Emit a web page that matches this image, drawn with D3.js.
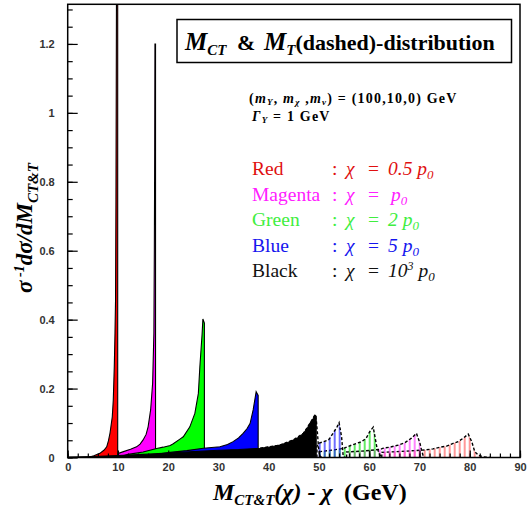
<!DOCTYPE html>
<html>
<head>
<meta charset="utf-8">
<script src="https://cdn.jsdelivr.net/npm/d3@7"></script>
<style>
  body { margin: 0; background: #fff; }
  svg { display: block; }
</style>
</head>
<body>
<svg id="chart"></svg>
<script>
// chart size
const W = 527, H = 512;
const plotL = 67.7, plotR = 520, plotT = 4.3, plotB = 457.5;

// axis data
const xTicks = [0, 10, 20, 30, 40, 50, 60, 70, 80, 90];
const xTickLabels = ["0", "10", "20", "30", "40", "50", "60", "70", "80", "90"];
const yTicks = [0, 0.2, 0.4, 0.6, 0.8, 1, 1.2];
const yTickLabels = ["0", "0.2", "0.4", "0.6", "0.8", "1", "1.2"];

// M_CT distributions (solid, filled) -- [x, y]
const redCT = [[4.0, 0], [5.2, 0.005], [6.4, 0.012], [7.2, 0.021], [7.76, 0.031], [8.1, 0.048], [8.42, 0.071],
  [8.87, 0.118], [9.07, 0.167], [9.27, 0.264], [9.41, 0.361], [9.52, 0.457], [9.6, 0.75], [9.66, 1.07],
  [9.72, 1.45], [9.95, 1.45], [9.95, 0]];
const magentaCT = [[9.95, 0], [10.05, 0.012], [11.1, 0.017], [12.5, 0.024], [13.7, 0.031], [14.4, 0.039], [15.0, 0.051],
  [15.6, 0.067], [16.0, 0.089], [16.5, 0.138], [16.9, 0.216], [17.15, 0.361], [17.24, 0.6], [17.31, 0.89],
  [17.36, 1.2], [17.48, 1.2], [17.48, 0]];
const greenCT = [[10.0, 0], [12.0, 0.009], [15.0, 0.016], [17.7, 0.026], [19.0, 0.030], [20.4, 0.035], [21.0, 0.040],
  [22.4, 0.054], [23.0, 0.060], [24.3, 0.089], [25.3, 0.128], [26.0, 0.186], [26.3, 0.264], [26.75, 0.36],
  [26.9, 0.402], [27.2, 0.39], [27.2, 0]];
const blueCT = [[15.0, 0], [18.0, 0.010], [20.4, 0.015], [23.7, 0.020], [27.0, 0.027], [30.3, 0.031], [31.8, 0.038],
  [32.9, 0.046], [34.0, 0.057], [34.9, 0.070], [35.7, 0.084], [36.3, 0.099], [36.9, 0.138], [37.5, 0.191],
  [37.9, 0.18], [37.9, 0]];
const blackCT = [[0, 0], [0, 0.001], [5, 0.003], [10, 0.006], [15, 0.009], [20, 0.013], [25, 0.017], [30, 0.021],
  [34, 0.023], [38.3, 0.027], [40.5, 0.031], [42.2, 0.036], [43.7, 0.043], [44.9, 0.051], [46.0, 0.059],
  [46.9, 0.070], [47.6, 0.083], [48.2, 0.099], [48.9, 0.114], [49.2, 0.123], [49.45, 0.12], [49.45, 0]];

// M_T distributions (dashed, hatched)
const blackMT = [[38.3, 0.027], [42.2, 0.036], [44.9, 0.051], [46.9, 0.070], [48.2, 0.099], [49.2, 0.124],
  [49.5, 0.104], [49.7, 0.070], [49.9, 0.031], [50.1, 0.007], [50.5, 0]];
const blueMT = [[49.6, 0], [49.6, 0.032], [49.9, 0.041], [50.9, 0.046], [51.9, 0.051], [52.8, 0.070], [53.6, 0.089],
  [54.0, 0.101], [54.5, 0.060], [54.8, 0.007], [55.2, 0]];
const greenMT = [[50.2, 0], [50.2, 0.017], [53.0, 0.022], [55.0, 0.027], [56.5, 0.036], [57.5, 0.041], [58.5, 0.046],
  [59.4, 0.056], [60.1, 0.075], [60.8, 0.088], [61.5, 0.031], [62.1, 0.007], [62.6, 0]];
const magentaMT = [[55.5, 0], [55.5, 0.016], [59.0, 0.019], [62.3, 0.024], [62.8, 0.027], [64.1, 0.030], [65.8, 0.036],
  [67.1, 0.043], [68.4, 0.056], [69.4, 0.070], [70.1, 0.041], [70.4, 0.022], [70.7, 0.007], [71.0, 0]];
const redMT = [[62.5, 0], [62.5, 0.015], [67.0, 0.018], [71.1, 0.022], [72.7, 0.025], [74.1, 0.030], [75.4, 0.033],
  [76.7, 0.041], [77.7, 0.046], [78.7, 0.056], [79.7, 0.068], [80.4, 0.046], [81.0, 0.017], [81.7, 0.007],
  [82.6, 0.002], [84.0, 0]];

// legend
const legendNames = ["Red", "Magenta", "Green", "Blue", "Black"];
const legendColors = ["#e01010", "#ff20ff", "#40ee40", "#1515ee", "#111111"];
const legendCoef = ["0.5 ", "", "2 ", "5 ", "10"];
const legendSup = ["", "", "", "", "3"];

var svg = d3.select("#chart")
    .attr("width", W)
    .attr("height", H)
    .attr("viewBox", [0, 0, W, H]);

var xScale = d3.scaleLinear().domain([0, 90]).range([plotL, plotR]),
    yScale = d3.scaleLinear().domain([0, 1.315]).range([plotB, plotT]);

svg.append("defs").append("clipPath").attr("id", "plotclip")
  .append("rect")
    .attr("x", plotL).attr("y", plotT)
    .attr("width", plotR - plotL).attr("height", plotB - plotT);

// hatch patterns for the M_T curves
var hatch = [["hRed", "#ff6060"], ["hMag", "#ff40ff"], ["hGreen", "#10e010"], ["hBlue", "#2020ff"]];
hatch.forEach(function(h) {
  var p = svg.select("defs").append("pattern")
      .attr("id", h[0])
      .attr("patternUnits", "userSpaceOnUse")
      .attr("x", plotL).attr("y", 0)
      .attr("width", 5).attr("height", 10);
  p.append("line")
      .attr("x1", 2).attr("x2", 2).attr("y1", 0).attr("y2", 10)
      .attr("stroke", h[1]).attr("stroke-width", 1.3);
});

var area = d3.area()
    .x(function(d) { return xScale(d[0]); })
    .y0(yScale(0))
    .y1(function(d) { return yScale(d[1]); });
var line = d3.line()
    .x(function(d) { return xScale(d[0]); })
    .y(function(d) { return yScale(d[1]); });

var plot = svg.append("g").attr("clip-path", "url(#plotclip)");

// solid M_CT: red first, black last on top
var ct = [[redCT, "#ff0000"], [magentaCT, "#ff00ff"], [greenCT, "#00ff00"], [blueCT, "#0000ff"], [blackCT, "#000000"]];
ct.forEach(function(c) {
  plot.append("path")
      .datum(c[0])
      .attr("d", area)
      .attr("fill", c[1])
      .attr("stroke", "#000")
      .attr("stroke-width", 1.1)
      .attr("stroke-linejoin", "miter");
});

// dashed M_T
var mt = [[redMT, "hRed"], [magentaMT, "hMag"], [greenMT, "hGreen"], [blueMT, "hBlue"], [blackMT, null]];
mt.forEach(function(m) {
  if (m[1]) {
    plot.append("path")
        .datum(m[0])
        .attr("d", area)
        .attr("fill", "url(#" + m[1] + ")")
        .attr("stroke", "none");
  }
  plot.append("path")
      .datum(m[0])
      .attr("d", line)
      .attr("fill", "none")
      .attr("stroke", "#000")
      .attr("stroke-width", 1.4)
      .attr("stroke-dasharray", "3,2");
});

// axes, ticks pointing inward
var xMinor = svg.append("g")
    .attr("transform", "translate(0," + plotB + ")")
    .call(d3.axisBottom(xScale).tickValues(d3.range(0, 91, 2)).tickSize(-4).tickFormat(""));
var xMajor = svg.append("g")
    .attr("transform", "translate(0," + plotB + ")")
    .call(d3.axisBottom(xScale).tickValues(xTicks).tickSize(-7).tickPadding(6)
      .tickFormat(function(d, i) { return xTickLabels[i]; }));
var yMinor = svg.append("g")
    .attr("transform", "translate(" + plotL + ",0)")
    .call(d3.axisLeft(yScale).tickValues(d3.range(0, 1.31, 0.05)).tickSize(-5).tickFormat(""));
var yMajor = svg.append("g")
    .attr("transform", "translate(" + plotL + ",0)")
    .call(d3.axisLeft(yScale).tickValues(yTicks).tickSize(-10).tickPadding(13)
      .tickFormat(function(d, i) { return yTickLabels[i]; }));

[xMinor, xMajor, yMinor, yMajor].forEach(function(g) {
  g.select(".domain").remove();
  g.selectAll(".tick line").attr("stroke", "#000").attr("stroke-width", 1.2);
  g.selectAll(".tick text")
      .attr("font-family", "Liberation Sans, Arial, sans-serif")
      .attr("font-weight", "bold")
      .attr("font-size", 11)
      .attr("fill", "#333");
});

// frame
svg.append("rect")
    .attr("x", plotL).attr("y", plotT)
    .attr("width", plotR - plotL).attr("height", plotB - plotT)
    .attr("fill", "none").attr("stroke", "#000").attr("stroke-width", 1.5);

var serif = "Liberation Serif, Times New Roman, serif";

// title box
svg.append("rect")
    .attr("x", 177).attr("y", 19.5).attr("width", 334.5).attr("height", 43)
    .attr("fill", "#fff").attr("stroke", "#000").attr("stroke-width", 1.5);
var title = svg.append("text")
    .attr("y", 50).attr("font-family", serif).attr("font-weight", "bold");
title.append("tspan").attr("x", 185).attr("font-style", "italic").attr("font-size", 25).text("M");
title.append("tspan").attr("dy", 5).attr("font-style", "italic").attr("font-size", 15).text("CT");
title.append("tspan").attr("x", 237).attr("dy", -5).attr("font-size", 22).text("&");
title.append("tspan").attr("x", 264).attr("font-style", "italic").attr("font-size", 25).text("M");
title.append("tspan").attr("dy", 5).attr("font-style", "italic").attr("font-size", 15).text("T");
title.append("tspan").attr("dy", -5).attr("font-size", 22).text("(dashed)-distribution");

// masses line
var par = svg.append("text")
    .attr("x", 249).attr("y", 103)
    .attr("font-family", serif).attr("font-weight", "bold").attr("font-size", 14)
    .attr("letter-spacing", 1.2);
par.append("tspan").text("(");
par.append("tspan").attr("font-style", "italic").text("m");
par.append("tspan").attr("dy", 2).attr("font-size", 9).attr("font-style", "italic").text("Y");
par.append("tspan").attr("dy", -2).text(", ");
par.append("tspan").attr("font-style", "italic").text("m");
par.append("tspan").attr("dy", 2).attr("font-size", 9).attr("font-style", "italic").text("χ");
par.append("tspan").attr("dy", -2).text(" ,");
par.append("tspan").attr("font-style", "italic").text("m");
par.append("tspan").attr("dy", 2).attr("font-size", 9).attr("font-style", "italic").text("ν");
par.append("tspan").attr("dy", -2).text(") = (100,10,0) GeV");

var gam = svg.append("text")
    .attr("x", 252).attr("y", 121)
    .attr("font-family", serif).attr("font-weight", "bold").attr("font-size", 14)
    .attr("letter-spacing", 1.2);
gam.append("tspan").attr("font-style", "italic").text("Γ");
gam.append("tspan").attr("dy", 2).attr("font-size", 9).attr("font-style", "italic").text("Y");
gam.append("tspan").attr("dy", -2).text(" = 1 GeV");

// legend rows
var rowY = [175, 200.5, 226, 251.5, 277];
legendNames.forEach(function(n, i) {
  var t = svg.append("text")
      .attr("y", rowY[i])
      .attr("font-family", serif).attr("font-size", 19.5)
      .attr("fill", legendColors[i]);
  t.append("tspan").attr("x", 252).text(n);
  t.append("tspan").attr("x", 332).text(":");
  t.append("tspan").attr("x", 346).attr("font-style", "italic").text("χ");
  t.append("tspan").attr("x", 368).text("=");
  t.append("tspan").attr("x", i == 1 ? 391 : 388).attr("font-style", "italic").text(legendCoef[i] + (legendSup[i] ? "" : "p"));
  if (legendSup[i]) {
    t.append("tspan").attr("dy", -7).attr("font-size", 12).attr("font-style", "italic").text(legendSup[i]);
    t.append("tspan").attr("dy", 7).attr("font-style", "italic").text(" p");
  }
  t.append("tspan").attr("dy", 4).attr("font-size", 13).attr("font-style", "italic").text("0");
});

// y axis title
var yl = svg.append("text")
    .attr("transform", "translate(32,228) rotate(-90)")
    .attr("text-anchor", "middle")
    .attr("font-family", serif).attr("font-weight", "bold").attr("font-style", "italic")
    .attr("font-size", 23);
yl.append("tspan").text("σ");
yl.append("tspan").attr("dy", -8).attr("font-size", 14).text(" -1");
yl.append("tspan").attr("dy", 8).text("dσ/dM");
yl.append("tspan").attr("dy", 6).attr("font-size", 15).text("CT&T");

// x axis title
var xl = svg.append("text")
    .attr("y", 500)
    .attr("font-family", serif).attr("font-weight", "bold")
    .attr("font-size", 24);
xl.append("tspan").attr("x", 213).attr("font-style", "italic").text("M");
xl.append("tspan").attr("dy", 5).attr("font-size", 15).attr("font-style", "italic").text("CT&T");
xl.append("tspan").attr("dy", -5).attr("font-style", "italic").text("(χ) - χ");
xl.append("tspan").attr("x", 344).text("(GeV)");
</script>
</body>
</html>
